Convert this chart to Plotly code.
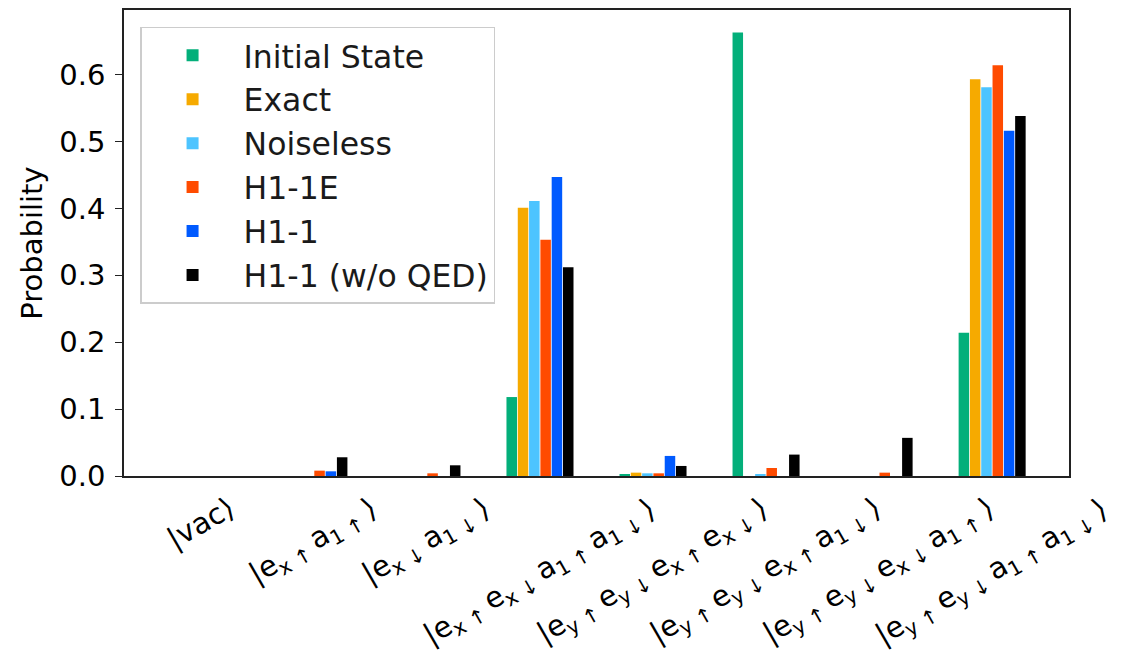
import plotly.graph_objects as go

# ---- data ----
states = [
    "|vac⟩",
    "|e<sub>x ↑ </sub>a<sub>1 ↑ </sub>⟩",
    "|e<sub>x ↓ </sub>a<sub>1 ↓ </sub>⟩",
    "|e<sub>x ↑ </sub>e<sub>x ↓ </sub>a<sub>1 ↑ </sub>a<sub>1 ↓ </sub>⟩",
    "|e<sub>y ↑ </sub>e<sub>y ↓ </sub>e<sub>x ↑ </sub>e<sub>x ↓ </sub>⟩",
    "|e<sub>y ↑ </sub>e<sub>y ↓ </sub>e<sub>x ↑ </sub>a<sub>1 ↓ </sub>⟩",
    "|e<sub>y ↑ </sub>e<sub>y ↓ </sub>e<sub>x ↓ </sub>a<sub>1 ↑ </sub>⟩",
    "|e<sub>y ↑ </sub>e<sub>y ↓ </sub>a<sub>1 ↑ </sub>a<sub>1 ↓ </sub>⟩",
]

series_names = ["Initial State", "Exact", "Noiseless", "H1-1E", "H1-1", "H1-1 (w/o QED)"]

initial_state = [0.0, 0.0, 0.0, 0.118, 0.002, 0.663, 0.0, 0.214]
exact = [0.0, 0.0, 0.0, 0.401, 0.005, 0.0, 0.0, 0.593]
noiseless = [0.0, 0.0, 0.0, 0.411, 0.004, 0.002, 0.0, 0.581]
h1_1e = [0.0, 0.008, 0.004, 0.353, 0.004, 0.012, 0.005, 0.614]
h1_1 = [0.0, 0.007, 0.0, 0.447, 0.030, 0.0, 0.0, 0.516]
h1_1_noqed = [0.0, 0.028, 0.016, 0.312, 0.015, 0.032, 0.057, 0.538]

y_ticks = [0.0, 0.1, 0.2, 0.3, 0.4, 0.5, 0.6]

# ---- style ----
colors = ["#03AF7A", "#F6AA00", "#4DC4FF", "#FF4B00", "#005AFF", "#000000"]
FONT = "DejaVu Sans"
FS = 29

series_values = [initial_state, exact, noiseless, h1_1e, h1_1, h1_1_noqed]

fig = go.Figure()
for i, (name, vals, col) in enumerate(zip(series_names, series_values, colors)):
    fig.add_trace(go.Bar(
        x=states, y=vals, name=name,
        marker=dict(color=col, line=dict(width=0)),
        legendgroup=f"g{i}",
    ))

# rotated category labels, centred on each category like the reference
for s in states:
    fig.add_annotation(
        x=s, xref="x", y=0, yref="paper",
        text=s, textangle=-30, showarrow=False,
        xanchor="center", yanchor="top", yshift=-12,
        font=dict(family=FONT, size=FS, color="black"),
    )

# the page body adds an 8px offset; margins compensate so the axes box
# lands where the reference has it
fig.update_layout(
    width=1132, height=653,
    margin=dict(l=116, r=71, t=0, b=185, pad=0),
    paper_bgcolor="white", plot_bgcolor="white",
    barmode="group", bargap=0.4, bargroupgap=0.07,
    font=dict(family=FONT, size=FS, color="black"),
    showlegend=True,
    legend=dict(
        x=0.017, y=0.964, xanchor="left", yanchor="top",
        bgcolor="rgba(255,255,255,0.8)", bordercolor="#cccccc", borderwidth=1.5,
        font=dict(family=FONT, size=31.5, color="#1a1a1a"),
        tracegroupgap=11, itemwidth=92, traceorder="normal",
    ),
    xaxis=dict(
        type="category", range=[-0.68, 7.68],
        showticklabels=False, ticks="",
        showline=True, linecolor="#222", linewidth=1.5, mirror=True,
        showgrid=False, zeroline=False,
    ),
    yaxis=dict(
        range=[0, 0.6965], tickvals=y_ticks, tickformat=".1f",
        ticks="outside", ticklen=7, tickwidth=1.3, tickcolor="#222",
        showline=True, linecolor="#222", linewidth=1.5, mirror=True,
        showgrid=False, zeroline=False,
        ticklabelstandoff=4,
        title=dict(text="Probability", font=dict(family=FONT, size=FS), standoff=8),
    ),
)

fig.write_html("out.html")
